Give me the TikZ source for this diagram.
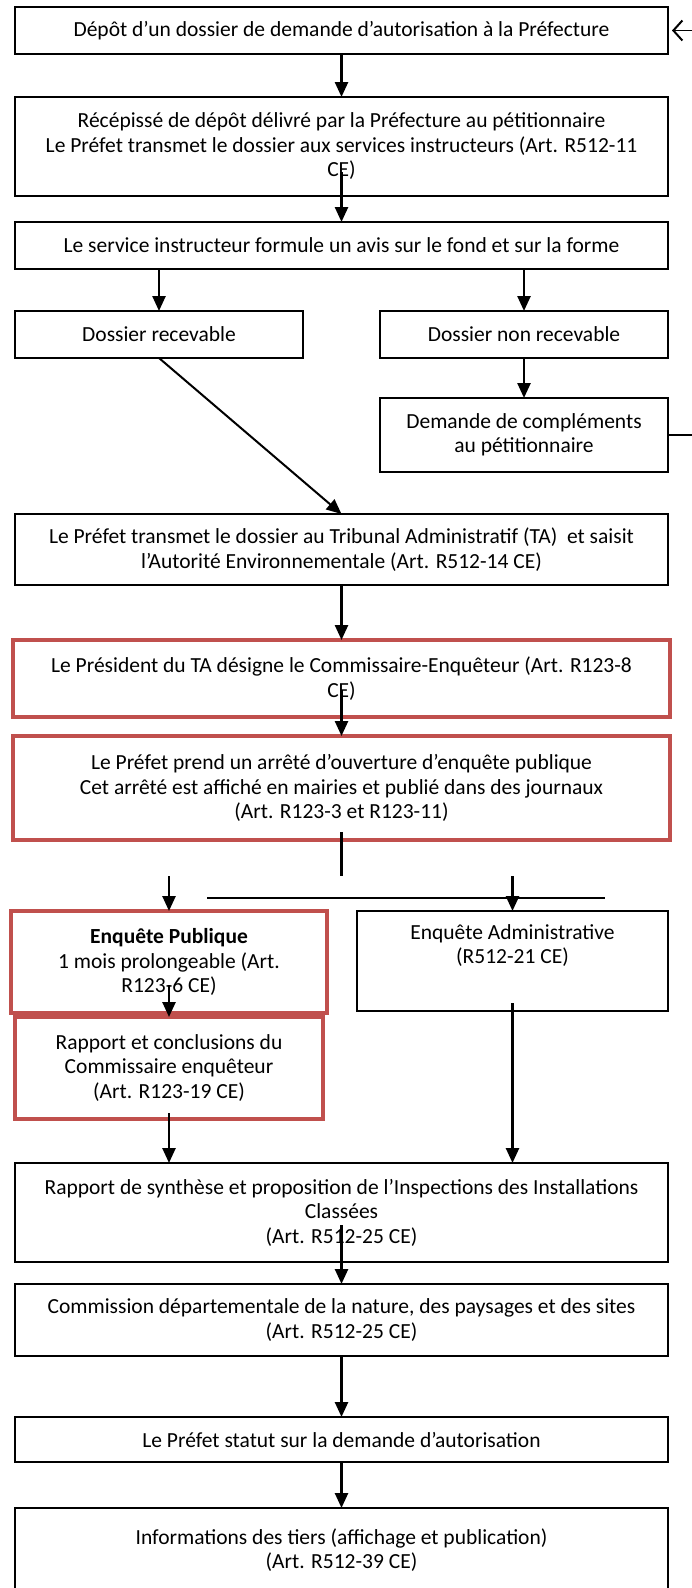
\documentclass[tikz,border=0pt]{standalone}
\usepackage{fontspec}
\setmainfont{Carlito}
\usetikzlibrary{arrows.meta}
\definecolor{boxred}{RGB}{192,80,77}

\begin{document}
\begin{tikzpicture}[x=1pt,y=-1pt,main/.style = {draw, line width=1.5pt, inner sep=0pt, outer sep=0pt, align=center, font=\fontsize{21.5}{24.5}\selectfont},enq/.style = {main, draw=boxred, line width=4pt},link/.style = {line width=2.5pt, -{Triangle[length=15pt,width=13pt]}},back/.style = {line width=1.3pt, -{Straight Barb[length=9pt,width=20pt,line width=2pt]}, shorten >=4pt},thin/.style = {line width=1.3pt}]
\useasboundingbox (0,0) rectangle (691,1588);
\node[main, minimum width=653, minimum height=47] (1) at (341.5,30.5) {Dépôt d’un dossier de demande d’autorisation à la Préfecture};
\node[main, minimum width=653, minimum height=99] (2) at (341.5,146.5) {Récépissé de dépôt délivré par la Préfecture au pétitionnaire\\Le Préfet transmet le dossier aux services instructeurs (Art. R512-11\\CE)};
\node[main, minimum width=653, minimum height=47] (3) at (341.5,245.5) {Le service instructeur formule un avis sur le fond et sur la forme};
\node[main, minimum width=288, minimum height=47] (4) at (159,334.5) {Dossier recevable};
\node[main, minimum width=288, minimum height=47] (5) at (524,334.5) {Dossier non recevable};
\node[main, minimum width=288, minimum height=74] (6) at (524,435) {Demande de compléments\\au pétitionnaire};
\node[main, minimum width=653, minimum height=71] (7) at (341.5,549.5) {Le Préfet transmet le dossier au Tribunal Administratif (TA)\ \ et saisit\\l’Autorité Environnementale (Art. R512-14 CE)};
\node[enq, minimum width=657, minimum height=77] (8) at (341.5,678.5) {Le Président du TA désigne le Commissaire-Enquêteur (Art. R123-8\\CE)};
\node[enq, minimum width=657, minimum height=104] (9) at (341.5,788) {Le Préfet prend un arrêté d’ouverture d’enquête publique\\Cet arrêté est affiché en mairies et publié dans des journaux\\(Art. R123-3 et R123-11)};
\node[enq, minimum width=316, minimum height=102] (10) at (169,962) {\textbf{Enquête Publique}\\1 mois prolongeable (Art.\\R123-6 CE)};
\node[main, minimum width=311, minimum height=100, text depth=34pt] (11) at (512.5,961) {Enquête Administrative\\(R512-21 CE)};
\node[enq, minimum width=308, minimum height=102] (12) at (169,1068) {Rapport et conclusions du\\Commissaire enquêteur\\(Art. R123-19 CE)};
\node[main, minimum width=653, minimum height=99] (13) at (341.5,1212.5) {Rapport de synthèse et proposition de l’Inspections des Installations\\Classées\\(Art. R512-25 CE)};
\node[main, minimum width=653, minimum height=72] (14) at (341.5,1320) {Commission départementale de la nature, des paysages et des sites\\(Art. R512-25 CE)};
\node[main, minimum width=653, minimum height=45] (15) at (341.5,1439.5) {Le Préfet statut sur la demande d’autorisation};
\node[main, minimum width=653, minimum height=84] (16) at (341.5,1550) {Informations des tiers (affichage et publication)\\(Art. R512-39 CE)};
\coordinate (a) at (341.5,876);
\coordinate (b) at (207,898);
\coordinate (c) at (605,898);
\coordinate (d) at (169,876);
\coordinate (e) at (512.5,876);
\coordinate (f) at (715,435);
\draw[link] (1) -- (2);
\draw[link] ([yshift=24]2.south) -- (3);
\draw[link] (3.south -| 4) -- (4);
\draw[link] (3.south -| 5) -- (5);
\draw[link] (5) -- (6);
\draw[link, line width=2pt] (4.south) -- (7.north);
\draw[back] (6.east) -- (f) |- (1.east);
\draw[link] (7) -- (8);
\draw[link] ([yshift=27]8.south) -- (9);
\draw[line width=2.5pt] ([yshift=8]9.south) -- (a);
\draw[thin] (b) -- (c);
\draw[link] (d) -- (10);
\draw[link] (e) -- (11);
\draw[link] ([yshift=28]10.south) -- (12);
\draw[link] ([yshift=6]12.south) -- (12.south |- 13.north);
\draw[link] ([yshift=8]11.south) -- (11.south |- 13.north);
\draw[link] ([yshift=37]13.south) -- (14);
\draw[link] (14) -- (15);
\draw[link] (15) -- (16);
\end{tikzpicture}
\end{document}
